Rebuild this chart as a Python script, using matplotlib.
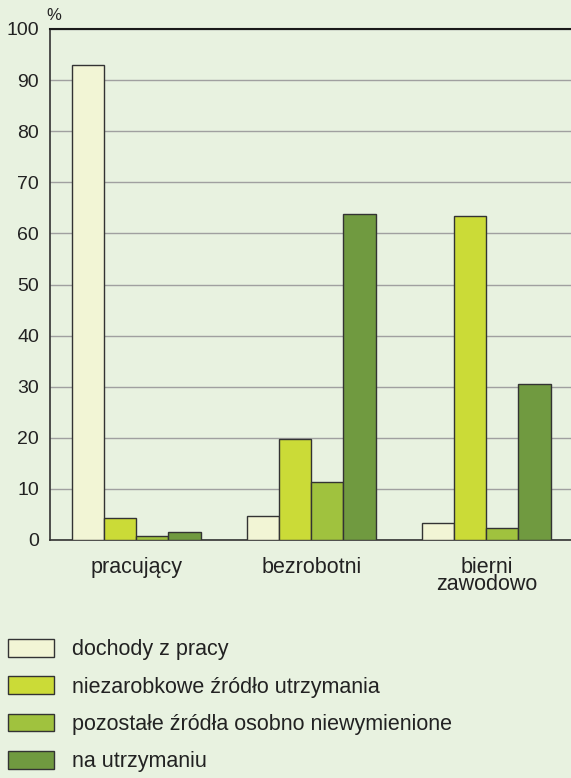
import numpy as np
import matplotlib
matplotlib.use("Agg")
import matplotlib.pyplot as plt

plt.rcParams["font.family"] = ["Liberation Sans", "DejaVu Sans"]

# dane
categories = ["pracujący", "bezrobotni", "bierni\nzawodowo"]
series_labels = [
    "dochody z pracy",
    "niezarobkowe źródło utrzymania",
    "pozostałe źródła osobno niewymienione",
    "na utrzymaniu",
]
dochody = [93.0, 4.7, 3.3]
niezarobkowe = [4.3, 19.7, 63.5]
pozostale = [0.7, 11.4, 2.4]
utrzymanie = [1.6, 63.8, 30.5]
yticks = list(range(0, 101, 10))

colors = ["#F2F5D5", "#CBDB37", "#A0C23E", "#709A40"]
bg = "#E8F2E0"

fig = plt.figure(figsize=(5.71, 7.78), dpi=100, facecolor=bg)
ax = fig.add_axes([50 / 571, 1 - 540 / 778, 1 - 50 / 571, (540 - 29) / 778])
ax.set_facecolor(bg)

x = np.arange(len(categories))
width = 0.183
data = [dochody, niezarobkowe, pozostale, utrzymanie]
handles = []
for i, vals in enumerate(data):
    b = ax.bar(x + (i - 1.5) * width, vals, width, color=colors[i],
               edgecolor="#333333", linewidth=1.0, label=series_labels[i], zorder=3)
    handles.append(b)

ax.set_xlim(-0.494, 2.483)
ax.set_ylim(0, 100)
ax.set_yticks(yticks)
ax.set_yticklabels([str(t) for t in yticks], fontsize=14, color="#222222")
ax.set_xticks(x)
ax.set_xticklabels(categories, fontsize=15.5, color="#222222", linespacing=0.8)
ax.tick_params(axis="y", length=0, pad=8)
ax.tick_params(axis="x", length=0, pad=12)
ax.yaxis.grid(True, color="#A0A0A0", linewidth=1.0, zorder=0)
ax.set_axisbelow(True)

ax.spines["right"].set_visible(False)
ax.spines["top"].set_color("#1a1a1a")
ax.spines["top"].set_linewidth(1.5)
ax.spines["left"].set_color("#333333")
ax.spines["left"].set_linewidth(1.2)
ax.spines["bottom"].set_color("#333333")
ax.spines["bottom"].set_linewidth(1.2)

fig.text(54 / 571, 1 - 15 / 778, "%", fontsize=12, color="#222222", ha="center", va="center")

fig.legend(handles=handles, labels=series_labels, loc="upper left",
           bbox_to_anchor=(8 / 571, 1 - 639 / 778), frameon=False, fontsize=15.5,
           handlelength=2.15, handleheight=0.9, handletextpad=0.8,
           labelspacing=0.74, borderpad=0.0, borderaxespad=0.0, labelcolor="#222222")

fig.savefig("out.png", dpi=100, facecolor=bg)
